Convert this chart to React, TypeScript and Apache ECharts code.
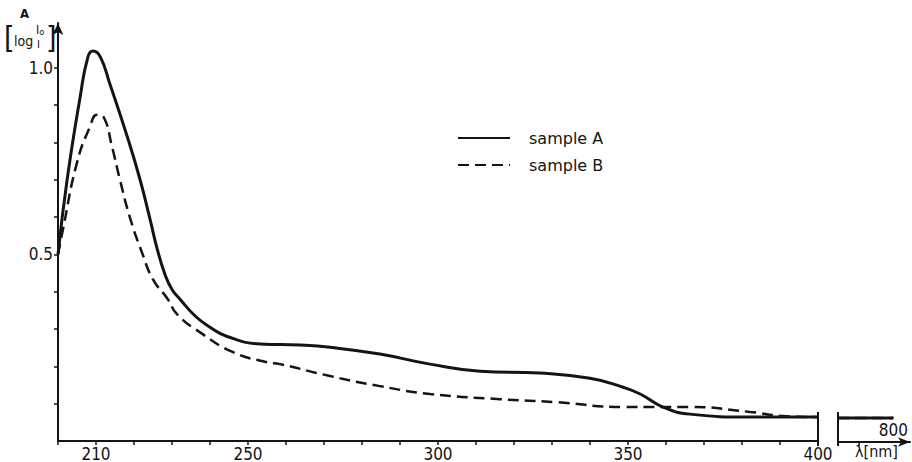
import { useEffect, useRef } from "react";
import * as echarts from "echarts";

// wavelength [nm] and absorbance A for sample A (solid line)
const wavelengthA = [200, 202.4, 205.8, 207.9, 209.2, 211.1, 213.7, 218.4, 221.6, 224.2, 226.1, 228.2, 230.0, 232.1, 236.1, 240, 244.5, 253.2, 263.7, 271.6, 284.7, 297.9, 311.1, 326.8, 340, 348.7, 353.2, 359.2, 366.3, 382.1, 400];
const absorbanceA = [0.5, 0.7, 0.92, 1.03, 1.045, 1.03, 0.955, 0.81, 0.7, 0.595, 0.515, 0.445, 0.406, 0.38, 0.335, 0.305, 0.28, 0.26, 0.257, 0.251, 0.233, 0.206, 0.187, 0.182, 0.168, 0.144, 0.126, 0.091, 0.072, 0.064, 0.064];

// wavelength [nm] and absorbance for sample B (dashed line)
const wavelengthB = [200, 201.3, 205, 208.4, 210.3, 212.1, 214.2, 216.3, 218.9, 222.1, 225, 228.9, 231.3, 237.4, 246.1, 255, 258.4, 271.6, 284.7, 297.9, 316.3, 331.3, 348.7, 366.3, 382.1, 390.8, 400];
const absorbanceB = [0.5, 0.567, 0.746, 0.842, 0.874, 0.866, 0.789, 0.7, 0.6, 0.505, 0.433, 0.38, 0.34, 0.291, 0.238, 0.211, 0.206, 0.174, 0.147, 0.126, 0.112, 0.104, 0.091, 0.091, 0.078, 0.067, 0.064];

// axis break segment (far wavelengths up to 800 nm)
const wavelengthFar = [760, 800];
const absorbanceFarA = [0.064, 0.064];
const absorbanceFarB = [0.064, 0.064];

const xLabelValues = [210, 250, 300, 350, 400];
const xFarLabelValues = [800];
const xFarTickValues = [775];
const yLabelValues = [0.5, 1.0];
const yTickValues = [0.1, 0.2, 0.3, 0.4, 0.5, 0.6, 0.7, 0.8, 0.9, 1.0, 1.1];

const seriesNames = ["sample A", "sample B"];

const FONT = '"DejaVu Sans Condensed", "DejaVu Sans", sans-serif';
const INK = "#141414";

const pairs = (xs: number[], ys: number[]) => xs.map((x, i) => [x, ys[i]]);

export default function App() {
  const ref = useRef<HTMLDivElement>(null);
  useEffect(() => {
    document.body.style.margin = "0";
    const chart = echarts.init(ref.current!, null, { renderer: "svg" });
    const solid = { color: INK, width: 3, type: "solid" as const };
    const dashed = { color: INK, width: 2.5, type: [11, 6] as any };
    chart.setOption({
      animation: false,
      backgroundColor: "#ffffff",
      grid: [
        { left: 58, top: 23, width: 760, height: 419 },
        { left: 838, top: 23, width: 72, height: 419 },
      ],
      legend: {
        data: seriesNames,
        orient: "vertical",
        left: 452,
        top: 125,
        itemWidth: 52,
        itemHeight: 14,
        itemGap: 11,
        itemStyle: { opacity: 0 },
        textStyle: { fontFamily: '"DejaVu Sans", sans-serif', fontSize: 16, color: INK, padding: [0, 0, 0, 14] },
      },
      xAxis: [
        {
          type: "value",
          gridIndex: 0,
          min: 200,
          max: 400,
          interval: 10,
          axisLine: { onZero: false, lineStyle: { color: INK, width: 2 } },
          axisTick: { length: 4, lineStyle: { color: INK, width: 1.5 } },
          axisLabel: { customValues: xLabelValues, margin: 4, fontFamily: FONT, fontSize: 17, color: INK },
          splitLine: { show: false },
        },
        {
          type: "value",
          gridIndex: 1,
          min: 760,
          max: 812,
          axisLine: {
            onZero: false,
            symbol: ["none", "arrow"],
            symbolSize: [7, 12],
            lineStyle: { color: INK, width: 2 },
          },
          axisTick: { customValues: xFarTickValues, length: 4, lineStyle: { color: INK, width: 1.5 } },
          axisLabel: { customValues: xFarLabelValues, inside: true, margin: 4, fontFamily: FONT, fontSize: 17, color: INK },
          splitLine: { show: false },
        },
      ],
      yAxis: [
        {
          type: "value",
          gridIndex: 0,
          min: 0,
          max: 1.12,
          interval: 0.1,
          axisLine: {
            show: true,
            onZero: false,
            symbol: ["none", "arrow"],
            symbolSize: [8, 12],
            lineStyle: { color: INK, width: 2 },
          },
          axisTick: { show: true, customValues: yTickValues, length: 4, lineStyle: { color: INK, width: 1.5 } },
          axisLabel: {
            customValues: yLabelValues,
            formatter: (v: number) => v.toFixed(1),
            margin: 5,
            fontFamily: FONT,
            fontSize: 17,
            color: INK,
          },
          splitLine: { show: false },
        },
        { type: "value", gridIndex: 1, min: 0, max: 1.12, show: false },
      ],
      series: [
        {
          name: seriesNames[0],
          type: "line",
          xAxisIndex: 0,
          yAxisIndex: 0,
          data: pairs(wavelengthA, absorbanceA),
          smooth: 0.5,
          symbol: "none",
          lineStyle: solid,
          itemStyle: { color: INK },
          z: 3,
        },
        {
          name: seriesNames[1],
          type: "line",
          xAxisIndex: 0,
          yAxisIndex: 0,
          data: pairs(wavelengthB, absorbanceB),
          smooth: 0.5,
          symbol: "none",
          lineStyle: dashed,
          itemStyle: { color: INK },
          z: 2,
        },
        {
          name: seriesNames[0],
          type: "line",
          xAxisIndex: 1,
          yAxisIndex: 1,
          data: pairs(wavelengthFar, absorbanceFarA),
          symbol: "none",
          lineStyle: solid,
          itemStyle: { color: INK },
        },
        {
          name: seriesNames[1],
          type: "line",
          xAxisIndex: 1,
          yAxisIndex: 1,
          data: pairs(wavelengthFar, absorbanceFarB),
          symbol: "none",
          lineStyle: dashed,
          itemStyle: { color: INK },
        },
      ],
      graphic: [
        { type: "line", shape: { x1: 818, y1: 412, x2: 818, y2: 446 }, style: { stroke: INK, lineWidth: 2 } },
        { type: "line", shape: { x1: 838, y1: 412, x2: 838, y2: 446 }, style: { stroke: INK, lineWidth: 2 } },
        { type: "text", left: 855, top: 443, style: { text: "λ[nm]", font: `16px ${FONT}`, fill: INK } },
        { type: "text", left: 20, top: 7, style: { text: "A", font: `bold 13px ${FONT}`, fill: INK } },
        { type: "text", left: 4, top: 22, style: { text: "[", font: `30px ${FONT}`, fill: INK } },
        { type: "text", left: 14, top: 34, style: { text: "log", font: `14px ${FONT}`, fill: INK } },
        {
          type: "text",
          left: 36,
          top: 24,
          style: {
            text: "{a|I}{b|o}",
            rich: {
              a: { fontFamily: FONT, fontSize: 12, fill: INK },
              b: { fontFamily: FONT, fontSize: 9, fill: INK, verticalAlign: "bottom", padding: [4, 0, 0, 0] },
            },
          },
        },
        { type: "text", left: 37, top: 39, style: { text: "I", font: `11px ${FONT}`, fill: INK } },
        { type: "text", left: 46, top: 22, style: { text: "]", font: `30px ${FONT}`, fill: INK } },
      ],
    });
    return () => chart.dispose();
  }, []);
  return <div ref={ref} style={{ width: 912, height: 462 }} />;
}
